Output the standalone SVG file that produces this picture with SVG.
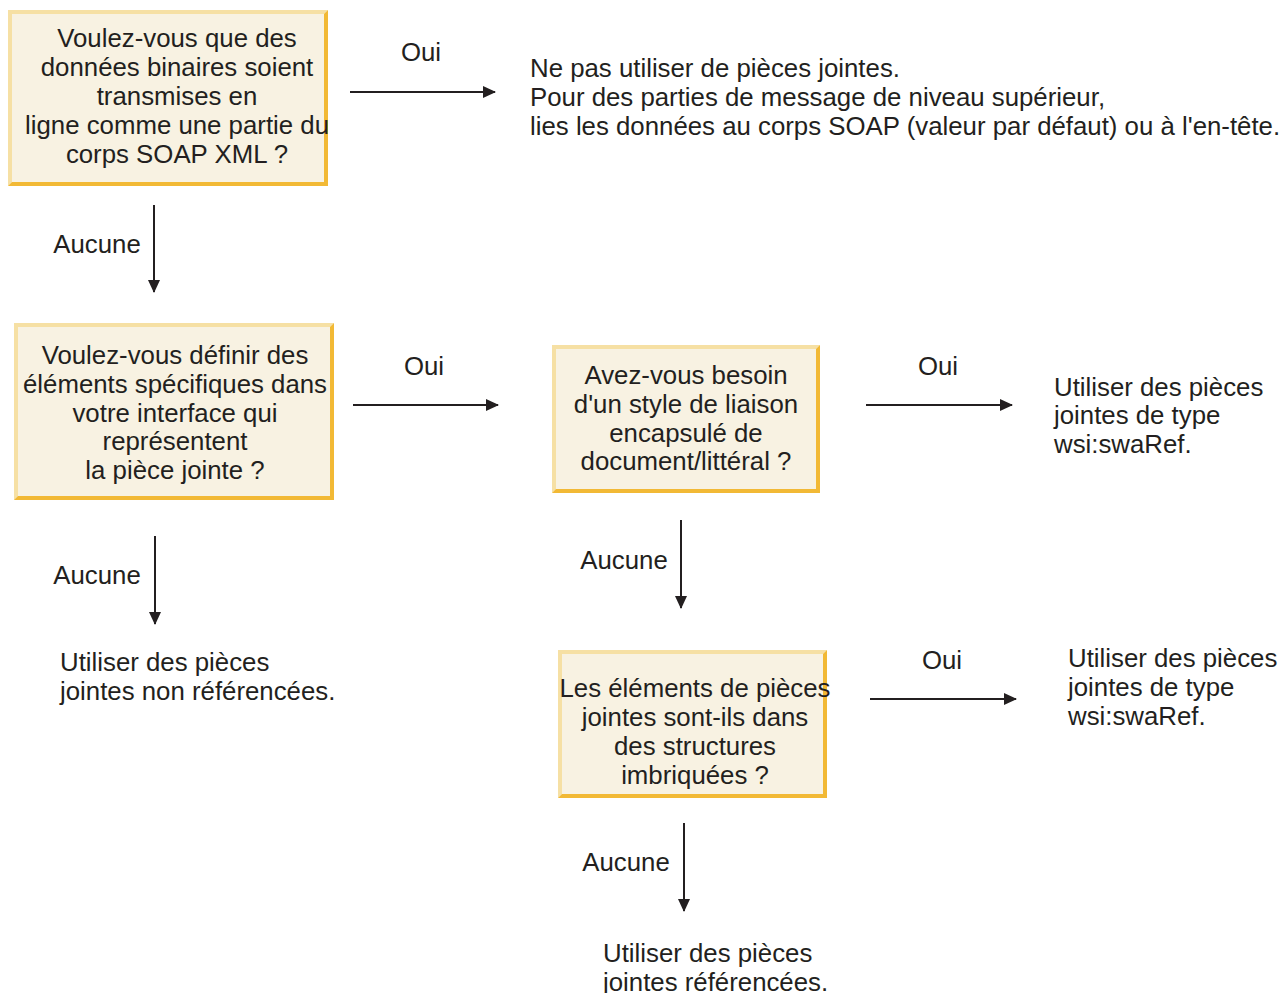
<svg xmlns="http://www.w3.org/2000/svg" width="1283" height="993" viewBox="0 0 1283 993">
<defs>
<marker id="ah" markerWidth="13" markerHeight="12" refX="12" refY="6" orient="auto" markerUnits="userSpaceOnUse">
<path d="M0,0 L13,6 L0,12 Z" fill="#231f20"/>
</marker>
</defs>
<style>
text{font-family:"Liberation Sans",Arial,sans-serif;font-size:25.8px;fill:#231f20}
.c{text-anchor:middle}
.bg{fill:#f8f2e2}
.lt{fill:#f6e0a4}
.dk{fill:#f2b935}
.e{stroke:#231f20;stroke-width:2;fill:none;marker-end:url(#ah)}
</style>
<rect width="1283" height="993" fill="#ffffff"/>

<g id="n1">
<rect class="bg" x="8" y="10" width="320" height="176"/>
<path class="lt" d="M8,10 H328 L324,14 H12 V182 L8,186 Z"/>
<path class="dk" d="M328,10 V186 H8 L12,182 H324 V14 Z"/>
<text class="c" x="177" y="47">Voulez-vous que des</text>
<text class="c" x="177" y="76">données binaires soient</text>
<text class="c" x="177" y="105">transmises en</text>
<text class="c" x="177" y="134">ligne comme une partie du</text>
<text class="c" x="177" y="163">corps SOAP XML ?</text>
</g>

<g id="n2">
<text x="530" y="77">Ne pas utiliser de pièces jointes.</text>
<text x="530" y="106">Pour des parties de message de niveau supérieur,</text>
<text x="530" y="135">lies les données au corps SOAP (valeur par défaut) ou à l'en-tête.</text>
</g>

<g id="n3">
<rect class="bg" x="14" y="323" width="320" height="177"/>
<path class="lt" d="M14,323 H334 L330,327 H18 V496 L14,500 Z"/>
<path class="dk" d="M334,323 V500 H14 L18,496 H330 V327 Z"/>
<text class="c" x="175" y="364">Voulez-vous définir des</text>
<text class="c" x="175" y="393">éléments spécifiques dans</text>
<text class="c" x="175" y="422">votre interface qui</text>
<text class="c" x="175" y="450">représentent</text>
<text class="c" x="175" y="479">la pièce jointe ?</text>
</g>

<g id="n4">
<rect class="bg" x="552" y="345" width="268" height="148"/>
<path class="lt" d="M552,345 H820 L816,349 H556 V489 L552,493 Z"/>
<path class="dk" d="M820,345 V493 H552 L556,489 H816 V349 Z"/>
<text class="c" x="686" y="384">Avez-vous besoin</text>
<text class="c" x="686" y="413">d'un style de liaison</text>
<text class="c" x="686" y="442">encapsulé de</text>
<text class="c" x="686" y="470">document/littéral ?</text>
</g>

<g id="n5">
<text x="1054" y="396">Utiliser des pièces</text>
<text x="1054" y="424">jointes de type</text>
<text x="1054" y="453">wsi:swaRef.</text>
</g>

<g id="n6">
<text x="60" y="671">Utiliser des pièces</text>
<text x="60" y="700">jointes non référencées.</text>
</g>

<g id="n7">
<rect class="bg" x="558" y="650" width="269" height="148"/>
<path class="lt" d="M558,650 H827 L823,654 H562 V794 L558,798 Z"/>
<path class="dk" d="M827,650 V798 H558 L562,794 H823 V654 Z"/>
<text class="c" x="695" y="697">Les éléments de pièces</text>
<text class="c" x="695" y="726">jointes sont-ils dans</text>
<text class="c" x="695" y="755">des structures</text>
<text class="c" x="695" y="784">imbriquées ?</text>
</g>

<g id="n8">
<text x="1068" y="667">Utiliser des pièces</text>
<text x="1068" y="696">jointes de type</text>
<text x="1068" y="725">wsi:swaRef.</text>
</g>

<g id="n9">
<text x="603" y="962">Utiliser des pièces</text>
<text x="603" y="991">jointes référencées.</text>
</g>

<g id="edges">
<line class="e" x1="350" y1="92" x2="495" y2="92"/>
<text class="c" x="421" y="61">Oui</text>
<line class="e" x1="154" y1="205" x2="154" y2="292"/>
<text class="c" x="97" y="253">Aucune</text>
<line class="e" x1="353" y1="405" x2="498" y2="405"/>
<text class="c" x="424" y="375">Oui</text>
<line class="e" x1="866" y1="405" x2="1012" y2="405"/>
<text class="c" x="938" y="375">Oui</text>
<line class="e" x1="155" y1="536" x2="155" y2="624"/>
<text class="c" x="97" y="584">Aucune</text>
<line class="e" x1="681" y1="520" x2="681" y2="608"/>
<text class="c" x="624" y="569">Aucune</text>
<line class="e" x1="870" y1="699" x2="1016" y2="699"/>
<text class="c" x="942" y="669">Oui</text>
<line class="e" x1="684" y1="823" x2="684" y2="911"/>
<text class="c" x="626" y="871">Aucune</text>
</g>
</svg>
